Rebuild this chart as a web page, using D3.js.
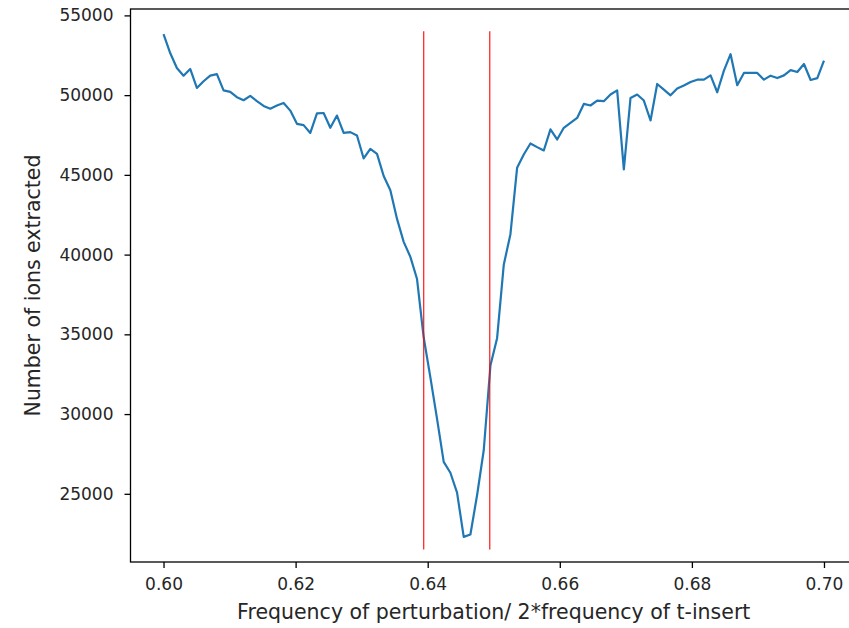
<!DOCTYPE html>
<html>
<head>
<meta charset="utf-8">
<script src="https://cdn.jsdelivr.net/npm/d3@7"></script>
<style>
  html, body { margin: 0; padding: 0; background: #fff; }
  svg { display: block; }
  text { font-family: "DejaVu Sans", sans-serif; fill: #262626; }
</style>
</head>
<body>
<svg id="chart" width="849" height="628"></svg>
<script>
// Scan range: 100 evenly spaced frequency ratios from 0.60 to 0.70
const freqStart = 0.60;
const freqEnd = 0.70;
const nPoints = 100;

// Number of ions extracted at each scan step
const ionCounts = [
  53825, 52640, 51700, 51220, 51640, 50450, 50870, 51220, 51320, 50300,
  50200, 49870, 49680, 49950, 49620, 49320, 49150, 49350, 49510, 49030,
  48200, 48120, 47630, 48850, 48880, 47950, 48720, 47630, 47680, 47470,
  46030, 46630, 46320, 44930, 44030, 42240, 40800, 39860, 38470, 34800,
  32300, 29700, 27000, 26320, 25070, 22300, 22450, 24910, 27730, 33040,
  34760, 39360, 41280, 45440, 46280, 46970, 46740, 46530, 47850, 47220,
  47950, 48260, 48570, 49450, 49350, 49660, 49620, 50040, 50300, 45340,
  49820, 50040, 49660, 48410, 50700, 50350, 49990, 50410, 50600, 50820,
  50970, 50970, 51240, 50180, 51540, 52570, 50620, 51390, 51390, 51390,
  50970, 51220, 51070, 51240, 51570, 51450, 51950, 50950, 51070, 52160
];

// Resonance window markers (vertical red lines)
const markerFreqs = [0.6394, 0.6494];
const markerSpan = [21500, 54000];

// Tick values and labels
const xTicks = [0.60, 0.62, 0.64, 0.66, 0.68, 0.70];
const yTicks = [25000, 30000, 35000, 40000, 45000, 50000, 55000];

const xLabel = "Frequency of perturbation/ 2*frequency of t-insert";
const yLabel = "Number of ions extracted";

const freqs = d3.range(nPoints).map(i => freqStart + (freqEnd - freqStart) * i / (nPoints - 1));
const series = freqs.map((f, i) => ({ f, v: ionCounts[i] }));

// Plot area
const plot = { left: 130.5, right: 857, top: 9, bottom: 562 };

// Autoscale with 5% margins on both axes
const xPad = (freqEnd - freqStart) * 0.05;
const [yMin, yMax] = d3.extent(ionCounts);
const yPad = (yMax - yMin) * 0.05;

const x = d3.scaleLinear()
  .domain([freqStart - xPad, freqEnd + xPad])
  .range([plot.left, plot.right]);
const y = d3.scaleLinear()
  .domain([yMin - yPad, yMax + yPad])
  .range([plot.bottom, plot.top]);

const svg = d3.select("#chart");
svg.append("rect").attr("width", 849).attr("height", 628).attr("fill", "#fff");

// Data line
svg.append("path")
  .datum(series)
  .attr("fill", "none")
  .attr("stroke", "#1f77b4")
  .attr("stroke-width", 2.2)
  .attr("stroke-linejoin", "round")
  .attr("d", d3.line().x(d => x(d.f)).y(d => y(d.v)));

// Marker lines
svg.selectAll("line.marker")
  .data(markerFreqs)
  .join("line")
  .attr("class", "marker")
  .attr("x1", d => x(d)).attr("x2", d => x(d))
  .attr("y1", y(markerSpan[0])).attr("y2", y(markerSpan[1]))
  .attr("stroke", "#ff0000")
  .attr("stroke-width", 1.1);

// Axes
const tickFont = 17;
const titleFont = 20.5;
const xAxis = d3.axisBottom(x)
  .tickValues(xTicks)
  .tickFormat(d3.format(".2f"))
  .tickSizeInner(6).tickSizeOuter(0).tickPadding(10);
const yAxis = d3.axisLeft(y)
  .tickValues(yTicks)
  .tickFormat(d3.format("d"))
  .tickSizeInner(6).tickSizeOuter(0).tickPadding(11);

const gx = svg.append("g").attr("transform", `translate(0,${plot.bottom})`).call(xAxis);
const gy = svg.append("g").attr("transform", `translate(${plot.left},0)`).call(yAxis);
[gx, gy].forEach(g => {
  g.select(".domain").remove();
  g.selectAll(".tick line").attr("stroke", "#000").attr("stroke-width", 1.3);
  g.selectAll(".tick text")
    .attr("font-family", "DejaVu Sans, sans-serif")
    .attr("font-size", tickFont)
    .attr("fill", "#262626");
});

// Spines (frame)
svg.append("rect")
  .attr("x", plot.left).attr("y", plot.top)
  .attr("width", plot.right - plot.left).attr("height", plot.bottom - plot.top)
  .attr("fill", "none").attr("stroke", "#000").attr("stroke-width", 1.3);

// Axis titles
svg.append("text")
  .attr("x", (plot.left + plot.right) / 2)
  .attr("y", 619)
  .attr("text-anchor", "middle")
  .attr("font-size", titleFont)
  .text(xLabel);

svg.append("text")
  .attr("transform", `translate(40,${(plot.top + plot.bottom) / 2}) rotate(-90)`)
  .attr("text-anchor", "middle")
  .attr("font-size", titleFont)
  .text(yLabel);
</script>
</body>
</html>
